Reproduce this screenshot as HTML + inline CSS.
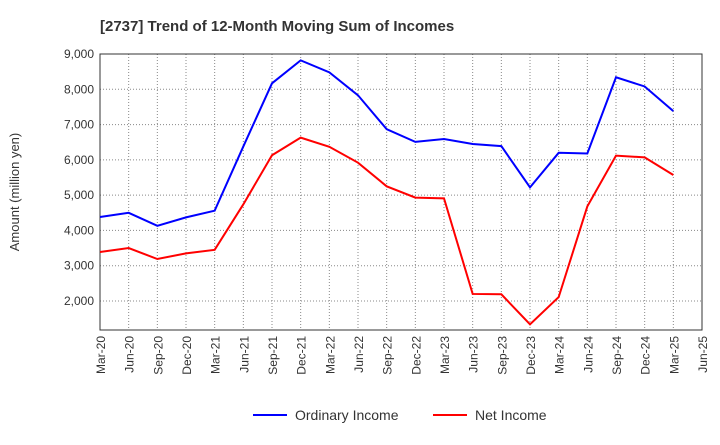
<!DOCTYPE html>
<html><head><meta charset="utf-8"><style>
body{margin:0;background:#fff;font-family:"Liberation Sans",sans-serif}
</style></head><body>
<svg width="720" height="440" xmlns="http://www.w3.org/2000/svg">
<text x="100" y="31" font-size="15" font-weight="bold" fill="#333">[2737]  Trend of 12-Month Moving Sum of Incomes</text>
<g id="grid"></g><g id="axes"></g><g id="series"></g>
<text transform="translate(19,192) rotate(-90)" text-anchor="middle" font-size="13" fill="#333">Amount (million yen)</text>
<g>
<line x1="253" y1="415" x2="287" y2="415" stroke="#0000ff" stroke-width="2"/>
<text x="295" y="420" font-size="14" fill="#333">Ordinary Income</text>
<line x1="433" y1="415" x2="467" y2="415" stroke="#ff0000" stroke-width="2"/>
<text x="475" y="420" font-size="14" fill="#333">Net Income</text>
</g>
</svg>
<script>
const categories=["Mar-20","Jun-20","Sep-20","Dec-20","Mar-21","Jun-21","Sep-21","Dec-21","Mar-22","Jun-22","Sep-22","Dec-22","Mar-23","Jun-23","Sep-23","Dec-23","Mar-24","Jun-24","Sep-24","Dec-24","Mar-25","Jun-25"];
const ordinaryIncome=[4380,4500,4130,4370,4560,6380,8170,8820,8480,7830,6870,6510,6590,6450,6390,5220,6200,6180,8340,8080,7380];
const netIncome=[3390,3500,3190,3350,3450,4740,6130,6630,6370,5920,5250,4930,4910,2200,2190,1340,2110,4680,6120,6070,5570];
const yTicks=[2000,3000,4000,5000,6000,7000,8000,9000];
const NS="http://www.w3.org/2000/svg";
const L=100,R=702,T=54,B=330;
const x=i=>L+i*(R-L)/(categories.length-1);
const y=v=>T+(9000-v)/1000*((301-54)/7);
function mk(tag,attrs,parent){const e=document.createElementNS(NS,tag);for(const k in attrs)e.setAttribute(k,attrs[k]);document.getElementById(parent).appendChild(e);return e;}
mk("rect",{x:L,y:T,width:R-L,height:B-T,fill:"none",stroke:"#333","stroke-width":1},"axes");
categories.forEach((c,i)=>{
  const g=mk("line",{x1:x(i),x2:x(i),y1:T,y2:B,stroke:"#888","stroke-dasharray":"1,2","stroke-width":1},"grid");
  
  
  const t=mk("text",{transform:`translate(${x(i)+5},${B+6}) rotate(-90)`,"text-anchor":"end","font-size":12,fill:"#333"},"axes");
  t.textContent=c;
  
  
});
yTicks.forEach(v=>{
  const g=mk("line",{x1:L,x2:R,y1:y(v),y2:y(v),stroke:"#888","stroke-dasharray":"1,2","stroke-width":1},"grid");
  
  
  const t=mk("text",{x:L-6,y:y(v)+4,"text-anchor":"end","font-size":12,fill:"#333"},"axes");
  t.textContent=v.toLocaleString("en-US");
  
  
});
function line(data,color,name){
  const p=mk("polyline",{points:data.map((v,i)=>x(i)+","+y(v)).join(" "),fill:"none",stroke:color,"stroke-width":2},"series");
  
  
}
line(ordinaryIncome,"#0000ff","ordinary-income-line");
line(netIncome,"#ff0000","net-income-line");
</script>
</body></html>
